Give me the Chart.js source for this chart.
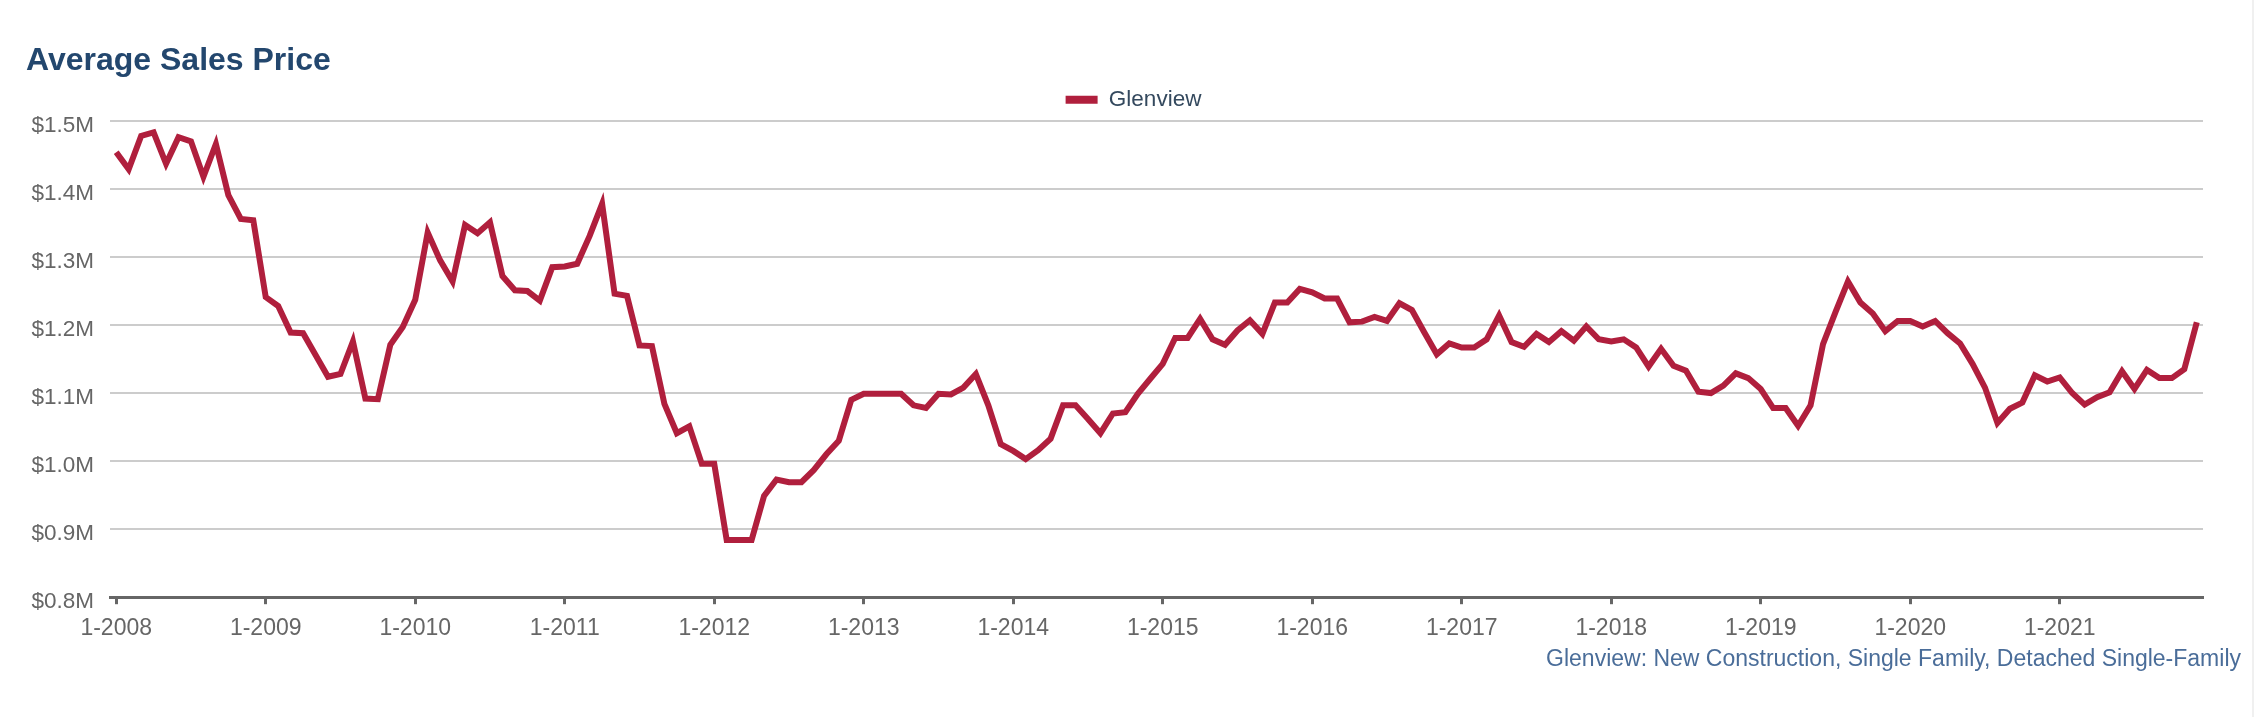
<!DOCTYPE html>
<html>
<head>
<meta charset="utf-8">
<script src="https://cdn.jsdelivr.net/npm/chart.js@4.4.1/dist/chart.umd.min.js"></script>
<style>
  html, body { margin: 0; padding: 0; background: #ffffff; }
  #wrap { position: relative; width: 2259px; height: 717px; overflow: hidden; }
  #c { position: absolute; left: 0; top: 0; }
  #edge { position: absolute; left: 2252px; top: 0; width: 2px; height: 717px; background: #f0f0f0; }
</style>
</head>
<body>
<div id="wrap">
  <canvas id="c" width="2259" height="717"></canvas>
  <div id="edge"></div>
</div>
<script>
// ---- data (average sales price, thousands of dollars, monthly) ----
const years = [2008, 2009, 2010, 2011, 2012, 2013, 2014, 2015, 2016, 2017, 2018, 2019, 2020, 2021];
const v2008 = [1454, 1429, 1478, 1483, 1437, 1476, 1470, 1418, 1466, 1391, 1356, 1354];
const v2009 = [1241, 1228, 1189, 1188, 1156, 1124, 1128, 1176, 1092, 1091, 1171, 1197];
const v2010 = [1237, 1336, 1295, 1264, 1347, 1335, 1351, 1272, 1251, 1250, 1236, 1285];
const v2011 = [1286, 1290, 1331, 1378, 1246, 1243, 1170, 1169, 1084, 1041, 1051, 996];
const v2012 = [996, 884, 884, 884, 949, 973, 969, 969, 987, 1010, 1030, 1090];
const v2013 = [1099, 1099, 1099, 1099, 1082, 1078, 1099, 1098, 1108, 1128, 1082, 1025];
const v2014 = [1015, 1003, 1016, 1033, 1082, 1082, 1062, 1041, 1070, 1072, 1099, 1121];
const v2015 = [1143, 1181, 1181, 1209, 1179, 1171, 1192, 1207, 1187, 1233, 1233, 1253];
const v2016 = [1248, 1239, 1239, 1204, 1205, 1212, 1206, 1232, 1222, 1189, 1157, 1173];
const v2017 = [1167, 1167, 1179, 1214, 1175, 1168, 1187, 1175, 1191, 1177, 1198, 1179];
const v2018 = [1176, 1179, 1167, 1139, 1165, 1140, 1133, 1102, 1100, 1111, 1129, 1122];
const v2019 = [1106, 1078, 1078, 1052, 1082, 1172, 1219, 1264, 1233, 1217, 1191, 1206];
const v2020 = [1206, 1198, 1206, 1188, 1173, 1143, 1108, 1056, 1077, 1086, 1126, 1117];
const v2021 = [1123, 1100, 1083, 1094, 1101, 1132, 1106, 1134, 1122, 1122, 1135, 1204];
const yTicks = [800, 900, 1000, 1100, 1200, 1300, 1400, 1500];

const seriesName = 'Glenview';
const titleText = 'Average Sales Price';
const sourceText = 'Glenview: New Construction, Single Family, Detached Single-Family';

const values = [].concat(v2008, v2009, v2010, v2011, v2012, v2013, v2014, v2015,
                         v2016, v2017, v2018, v2019, v2020, v2021);
const categories = [];
years.forEach(y => { for (let m = 1; m <= 12; m++) categories.push(m + '-' + y); });

const FONT = '"Liberation Sans", Arial, Helvetica, sans-serif';
const RED = '#b01f3d';

new Chart(document.getElementById('c'), {
  type: 'line',
  data: {
    labels: categories,
    datasets: [{
      label: seriesName,
      data: values,
      borderColor: RED,
      backgroundColor: RED,
      borderWidth: 6,
      pointRadius: 0,
      pointHoverRadius: 0,
      tension: 0,
      fill: false,
      yAxisID: 'y'
    }]
  },
  options: {
    responsive: false,
    animation: false,
    devicePixelRatio: 1,
    layout: { padding: { left: 26, right: 18, top: 0, bottom: 44 } },
    plugins: {
      tooltip: { enabled: false },
      title: {
        display: true,
        text: titleText,
        align: 'start',
        color: '#23476e',
        font: { family: FONT, size: 32, weight: 'bold', lineHeight: 1.075 },
        padding: { top: 44, bottom: 0 }
      },
      subtitle: {
        display: true,
        text: sourceText,
        position: 'bottom',
        align: 'end',
        color: '#4a6d99',
        font: { family: FONT, size: 23, weight: 'normal', lineHeight: 1.2 },
        padding: { top: 4.6, bottom: 0 }
      },
      legend: {
        display: true,
        position: 'top',
        align: 'center',
        labels: {
          boxWidth: 32,
          boxHeight: 8,
          padding: 10,
          color: '#34495e',
          font: { family: FONT, size: 22.5 },
          generateLabels: (chart) => chart.data.datasets.map((ds, i) => ({
            text: ds.label,
            fillStyle: ds.borderColor,
            strokeStyle: ds.borderColor,
            lineWidth: 0,
            hidden: false,
            datasetIndex: i,
            fontColor: '#34495e'
          }))
        }
      }
    },
    scales: {
      x: {
        type: 'category',
        offset: true,
        afterFit: (scale) => { scale.height = 43.6; },
        grid: {
          display: true,
          drawOnChartArea: false,
          drawTicks: true,
          tickLength: 7,
          tickWidth: 3,
          tickColor: '#666666',
          offset: false
        },
        border: { display: true, color: '#666666', width: 3 },
        ticks: {
          autoSkip: false,
          maxRotation: 0,
          minRotation: 0,
          padding: 11,
          color: '#666666',
          font: { family: FONT, size: 23 },
          callback: function (value, index) {
            return index % 12 === 0 ? categories[index] : null;
          }
        }
      },
      y: {
        type: 'linear',
        position: 'left',
        min: yTicks[0],
        max: yTicks[yTicks.length - 1],
        afterBuildTicks: (scale) => { scale.ticks = yTicks.map(v => ({ value: v })); },
        afterFit: (scale) => { scale.width = 84; },
        grid: { color: '#cccccc', lineWidth: 2, drawTicks: false },
        border: { display: false },
        ticks: {
          padding: 16,
          labelOffset: 5,
          color: '#666666',
          font: { family: FONT, size: 22.5 },
          callback: (v) => '$' + (v / 1000).toFixed(1) + 'M'
        }
      },
      yPad: {
        type: 'linear',
        position: 'right',
        display: true,
        grid: { display: false, drawTicks: false },
        border: { display: false },
        ticks: { display: false },
        afterFit: (scale) => { scale.width = 38; }
      }
    }
  }
});
</script>
</body>
</html>
